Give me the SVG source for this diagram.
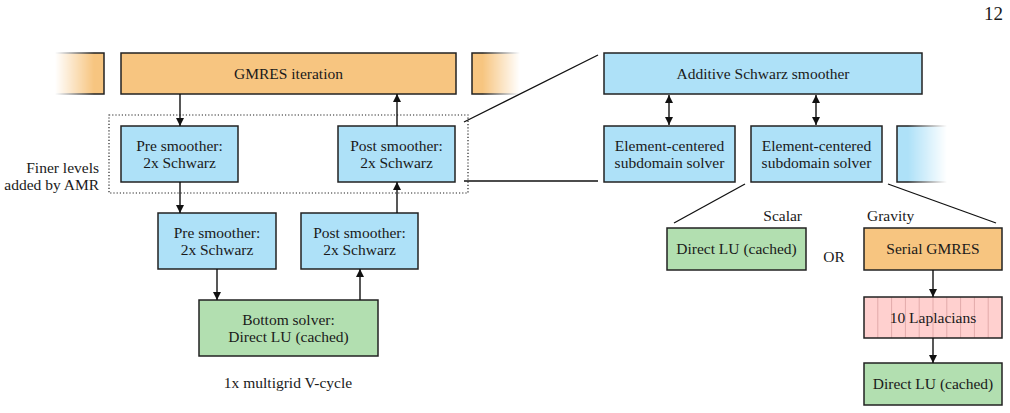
<svg xmlns="http://www.w3.org/2000/svg" width="1010" height="413" viewBox="0 0 1010 413">
<style>
text{font-family:"Liberation Serif","DejaVu Serif",serif;font-size:15.5px;fill:#1a1a1a}
.c{text-anchor:middle}
.box{stroke:#222;stroke-width:1.5}
.or{fill:#f7c580}
.bl{fill:#aee1f8}
.gr{fill:#b2dfb0}
.pk{fill:#ffd0cf}
.ln{stroke:#111;stroke-width:1.3;fill:none}
.ar{stroke:#111;stroke-width:1.4;fill:none;marker-end:url(#ah)}
.ard{stroke:#111;stroke-width:1.4;fill:none;marker-end:url(#ah);marker-start:url(#ahs)}
</style>
<defs>
<marker id="ah" viewBox="0 0 10 10" refX="10" refY="5" markerWidth="9" markerHeight="8" markerUnits="userSpaceOnUse" orient="auto"><path d="M0,0L10,5L0,10z" fill="#111"/></marker>
<marker id="ahs" viewBox="0 0 10 10" refX="0" refY="5" markerWidth="9" markerHeight="8" markerUnits="userSpaceOnUse" orient="auto"><path d="M10,0L0,5L10,10z" fill="#111"/></marker>
<linearGradient id="fadeL" x1="0" y1="0" x2="1" y2="0"><stop offset="0" stop-color="#fff" stop-opacity="0"/><stop offset="0.75" stop-color="#fff" stop-opacity="1"/></linearGradient>
<linearGradient id="fadeR" x1="0" y1="0" x2="1" y2="0"><stop offset="0.25" stop-color="#fff" stop-opacity="1"/><stop offset="1" stop-color="#fff" stop-opacity="0"/></linearGradient>
<mask id="mL" maskContentUnits="userSpaceOnUse"><rect x="55" y="50" width="52" height="48" fill="url(#fadeL)"/></mask>
<mask id="mR1" maskContentUnits="userSpaceOnUse"><rect x="470" y="50" width="50" height="48" fill="url(#fadeR)"/></mask>
<mask id="mR2" maskContentUnits="userSpaceOnUse"><rect x="895" y="123" width="52" height="62" fill="url(#fadeR)"/></mask>
</defs>

<text x="1003" y="20" text-anchor="end" style="font-size:19px">12</text>

<g id="fadeLeftOrange" mask="url(#mL)"><rect class="box or" x="30" y="53" width="74" height="41"/></g>
<g id="fadeRightOrange" mask="url(#mR1)"><rect class="box or" x="472" y="53" width="70" height="41"/></g>
<g id="fadeRightBlue" mask="url(#mR2)"><rect class="box bl" x="897" y="126" width="70" height="56"/></g>

<g id="gmres"><rect class="box or" x="121" y="53" width="335" height="41"/><text class="c" x="288.5" y="78.5">GMRES iteration</text></g>
<g id="finerBox"><rect x="109" y="115" width="359" height="78" fill="none" stroke="#222" stroke-width="1.2" stroke-dasharray="1.2,2"/></g>
<g id="finerLabel"><text x="99" y="173" text-anchor="end">Finer levels</text><text x="99" y="190" text-anchor="end">added by AMR</text></g>
<g id="pre1"><rect class="box bl" x="121" y="126" width="117" height="56"/><text class="c" x="179.5" y="151">Pre smoother:</text><text class="c" x="179.5" y="167.5">2x Schwarz</text></g>
<g id="post1"><rect class="box bl" x="338" y="126" width="117" height="56"/><text class="c" x="396.5" y="151">Post smoother:</text><text class="c" x="396.5" y="167.5">2x Schwarz</text></g>
<g id="pre2"><rect class="box bl" x="158" y="213" width="118" height="56"/><text class="c" x="217" y="238">Pre smoother:</text><text class="c" x="217" y="254.5">2x Schwarz</text></g>
<g id="post2"><rect class="box bl" x="301" y="213" width="117" height="56"/><text class="c" x="359.5" y="238">Post smoother:</text><text class="c" x="359.5" y="254.5">2x Schwarz</text></g>
<g id="bottom"><rect class="box gr" x="199" y="300" width="179" height="56"/><text class="c" x="288.5" y="325">Bottom solver:</text><text class="c" x="288.5" y="341.5">Direct LU (cached)</text></g>
<g id="vcycle"><text class="c" x="288" y="388">1x multigrid V-cycle</text></g>

<g id="additive"><rect class="box bl" x="604" y="53" width="318" height="41"/><text class="c" x="763" y="78.5">Additive Schwarz smoother</text></g>
<g id="ec1"><rect class="box bl" x="604" y="126" width="131" height="56"/><text class="c" x="669.5" y="151">Element-centered</text><text class="c" x="669.5" y="167.5">subdomain solver</text></g>
<g id="ec2"><rect class="box bl" x="751" y="126" width="131" height="56"/><text class="c" x="816.5" y="151">Element-centered</text><text class="c" x="816.5" y="167.5">subdomain solver</text></g>

<g id="scalarLabel"><text x="802" y="221" text-anchor="end">Scalar</text></g>
<g id="gravityLabel"><text x="867" y="221">Gravity</text></g>
<g id="orLabel"><text class="c" x="834" y="262">OR</text></g>
<g id="directScalar"><rect class="box gr" x="667" y="228" width="139" height="42"/><text class="c" x="736.5" y="254">Direct LU (cached)</text></g>
<g id="serialGmres"><rect class="box or" x="864" y="228" width="138" height="42"/><text class="c" x="933" y="254">Serial GMRES</text></g>
<g id="laplacians"><rect x="864" y="297" width="138" height="41" class="pk"/>
<g stroke="#e2aaaa" stroke-width="1"><line x1="877.8" y1="297" x2="877.8" y2="338"/><line x1="891.6" y1="297" x2="891.6" y2="338"/><line x1="905.4" y1="297" x2="905.4" y2="338"/><line x1="919.2" y1="297" x2="919.2" y2="338"/><line x1="933" y1="297" x2="933" y2="338"/><line x1="946.8" y1="297" x2="946.8" y2="338"/><line x1="960.6" y1="297" x2="960.6" y2="338"/><line x1="974.4" y1="297" x2="974.4" y2="338"/><line x1="988.2" y1="297" x2="988.2" y2="338"/></g>
<rect class="box" x="864" y="297" width="138" height="41" fill="none"/><text class="c" x="933" y="322.5">10 Laplacians</text></g>
<g id="directGravity"><rect class="box gr" x="864" y="363" width="138" height="42"/><text class="c" x="933" y="389">Direct LU (cached)</text></g>

<g id="connectors">
<line class="ar" x1="180" y1="94" x2="180" y2="126"/>
<line class="ar" x1="397" y1="126" x2="397" y2="94"/>
<line class="ar" x1="180" y1="182" x2="180" y2="213"/>
<line class="ar" x1="397" y1="213" x2="397" y2="182"/>
<line class="ar" x1="217" y1="269" x2="217" y2="300"/>
<line class="ar" x1="360" y1="300" x2="360" y2="269"/>
<line class="ard" x1="669" y1="95" x2="669" y2="125"/>
<line class="ard" x1="816" y1="95" x2="816" y2="125"/>
<line class="ln" x1="464" y1="122" x2="598" y2="55"/>
<line class="ln" x1="464" y1="181" x2="598" y2="181"/>
<line class="ln" x1="745" y1="184" x2="674" y2="223"/>
<line class="ln" x1="888" y1="184" x2="996" y2="223"/>
<line class="ar" x1="933" y1="270" x2="933" y2="297"/>
<line class="ar" x1="933" y1="338" x2="933" y2="363"/>
</g>
</svg>
